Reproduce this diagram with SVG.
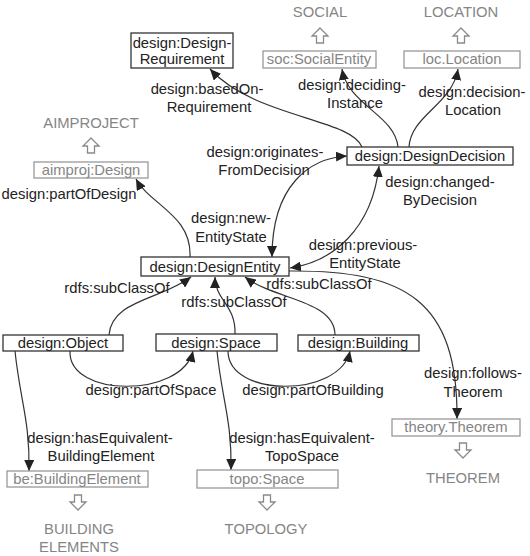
<svg xmlns="http://www.w3.org/2000/svg" width="530" height="556" viewBox="0 0 530 556">
<style>
text{font-family:"Liberation Sans",Arial,sans-serif;font-size:14.8px;text-anchor:middle}
.lbl{fill:#222}
.gt{fill:#858585}
.box{fill:#fff;stroke:#333;stroke-width:1.3}
.gbox{fill:#fff;stroke:#999;stroke-width:1.3}
.edge{fill:none;stroke:#333;stroke-width:1.2}
.harrow{fill:#fff;stroke:#8a8a8a;stroke-width:1.3}
</style>
<defs>
<marker id="ah" markerUnits="userSpaceOnUse" markerWidth="12" markerHeight="10" refX="11" refY="5" orient="auto-start-reverse">
<path d="M0,0 L11,5 L0,10 z" fill="#222"/>
</marker>
<path id="up" d="M0,0 L8,8 L3.5,8 L3.5,15 L-3.5,15 L-3.5,8 L-8,8 z"/>
<path id="down" d="M0,15 L8,7 L3.5,7 L3.5,0 L-3.5,0 L-3.5,7 L-8,7 z"/>
</defs>
<rect width="530" height="556" fill="#fff"/>

<g id="connectors">
<path class="edge" d="M362,147 C350,118 255,118 210,69" marker-end="url(#ah)"/>
<path class="edge" d="M398,147 C395,115 348,105 342,69" marker-end="url(#ah)"/>
<path class="edge" d="M409,147 C411,115 452,105 458,69" marker-end="url(#ah)"/>
<path class="edge" d="M347,156 C310,158 272,185 272,257" marker-start="url(#ah)" marker-end="url(#ah)"/>
<path class="edge" d="M290,268 C332,262 372,230 379,166" marker-start="url(#ah)" marker-end="url(#ah)"/>
<path class="edge" d="M190,257 C192,215 150,205 136,179" marker-end="url(#ah)"/>
<path class="edge" d="M289,271 C405,270 458,300 457,419" marker-end="url(#ah)"/>
<path class="edge" d="M109,335 C112,300 160,300 191,277" marker-end="url(#ah)"/>
<path class="edge" d="M235,334 C236,305 215,300 215,277" marker-end="url(#ah)"/>
<path class="edge" d="M335,335 C335,300 275,300 245,277" marker-end="url(#ah)"/>
<path class="edge" d="M70,351 C68,398 182,398 193,351" marker-end="url(#ah)"/>
<path class="edge" d="M228,351 C228,398 340,398 350,351" marker-end="url(#ah)"/>
<path class="edge" d="M15,351 C20,400 30,420 29,471" marker-end="url(#ah)"/>
<path class="edge" d="M217,351 C222,400 232,420 231,470" marker-end="url(#ah)"/>
</g>

<g id="edge-labels">
<text class="lbl" x="207" y="94">design:basedOn-</text>
<text class="lbl" x="209" y="112">Requirement</text>
<text class="lbl" x="352" y="90">design:deciding-</text>
<text class="lbl" x="355" y="108">Instance</text>
<text class="lbl" x="472" y="97">design:decision-</text>
<text class="lbl" x="473" y="115">Location</text>
<text class="lbl" x="265" y="157">design:originates-</text>
<text class="lbl" x="264" y="175">FromDecision</text>
<text class="lbl" x="440" y="187">design:changed-</text>
<text class="lbl" x="440" y="205">ByDecision</text>
<text class="lbl" x="231" y="223">design:new-</text>
<text class="lbl" x="231" y="242">EntityState</text>
<text class="lbl" x="363" y="250">design:previous-</text>
<text class="lbl" x="365" y="268">EntityState</text>
<text class="lbl" x="69" y="199">design:partOfDesign</text>
<text class="lbl" x="117" y="293">rdfs:subClassOf</text>
<text class="lbl" x="234" y="307">rdfs:subClassOf</text>
<text class="lbl" x="319" y="289">rdfs:subClassOf</text>
<text class="lbl" x="151" y="395">design:partOfSpace</text>
<text class="lbl" x="313" y="395">design:partOfBuilding</text>
<text class="lbl" x="473" y="378">design:follows-</text>
<text class="lbl" x="473" y="397">Theorem</text>
<text class="lbl" x="100" y="443">design:hasEquivalent-</text>
<text class="lbl" x="101" y="461">BuildingElement</text>
<text class="lbl" x="302" y="443">design:hasEquivalent-</text>
<text class="lbl" x="302" y="461">TopoSpace</text>
</g>

<g id="n-requirement">
<rect class="box" x="131" y="33" width="102" height="35"/>
<text class="lbl" x="182" y="48">design:Design-</text>
<text class="lbl" x="182" y="64">Requirement</text>
</g>
<g id="n-social">
<text class="gt" x="320" y="17">SOCIAL</text>
<use href="#up" x="320" y="28" class="harrow"/>
<rect class="gbox" x="263" y="51" width="113" height="17"/>
<text class="gt" x="319" y="64">soc:SocialEntity</text>
</g>
<g id="n-location">
<text class="gt" x="461" y="17">LOCATION</text>
<use href="#up" x="461" y="28" class="harrow"/>
<rect class="gbox" x="404" y="51" width="116" height="17"/>
<text class="gt" x="462" y="64">loc.Location</text>
</g>
<g id="n-aimproj">
<text class="gt" x="91" y="128">AIMPROJECT</text>
<use href="#up" x="91" y="138" class="harrow"/>
<rect class="gbox" x="34" y="162" width="114" height="16"/>
<text class="gt" x="91" y="175">aimproj:Design</text>
</g>
<g id="n-decision">
<rect class="box" x="347" y="147" width="166" height="18"/>
<text class="lbl" x="430" y="161">design:DesignDecision</text>
</g>
<g id="n-entity">
<rect class="box" x="141" y="257" width="148" height="19"/>
<text class="lbl" x="215" y="272">design:DesignEntity</text>
</g>
<g id="n-object">
<rect class="box" x="3" y="335" width="120" height="16"/>
<text class="lbl" x="63" y="348">design:Object</text>
</g>
<g id="n-space">
<rect class="box" x="156" y="334" width="121" height="17"/>
<text class="lbl" x="216" y="348">design:Space</text>
</g>
<g id="n-building">
<rect class="box" x="298" y="335" width="121" height="16"/>
<text class="lbl" x="358" y="348">design:Building</text>
</g>
<g id="n-buildingelement">
<rect class="gbox" x="7" y="471" width="141" height="16"/>
<text class="gt" x="77" y="484">be:BuildingElement</text>
<use href="#down" x="78" y="495" class="harrow"/>
<text class="gt" x="79" y="534">BUILDING</text>
<text class="gt" x="79" y="552">ELEMENTS</text>
</g>
<g id="n-topospace">
<rect class="gbox" x="197" y="470" width="141" height="18"/>
<text class="gt" x="267" y="484">topo:Space</text>
<use href="#down" x="267" y="495" class="harrow"/>
<text class="gt" x="266" y="534">TOPOLOGY</text>
</g>
<g id="n-theorem">
<rect class="gbox" x="392" y="419" width="128" height="17"/>
<text class="gt" x="456" y="432">theory.Theorem</text>
<use href="#down" x="463" y="443" class="harrow"/>
<text class="gt" x="463" y="483">THEOREM</text>
</g>
</svg>
